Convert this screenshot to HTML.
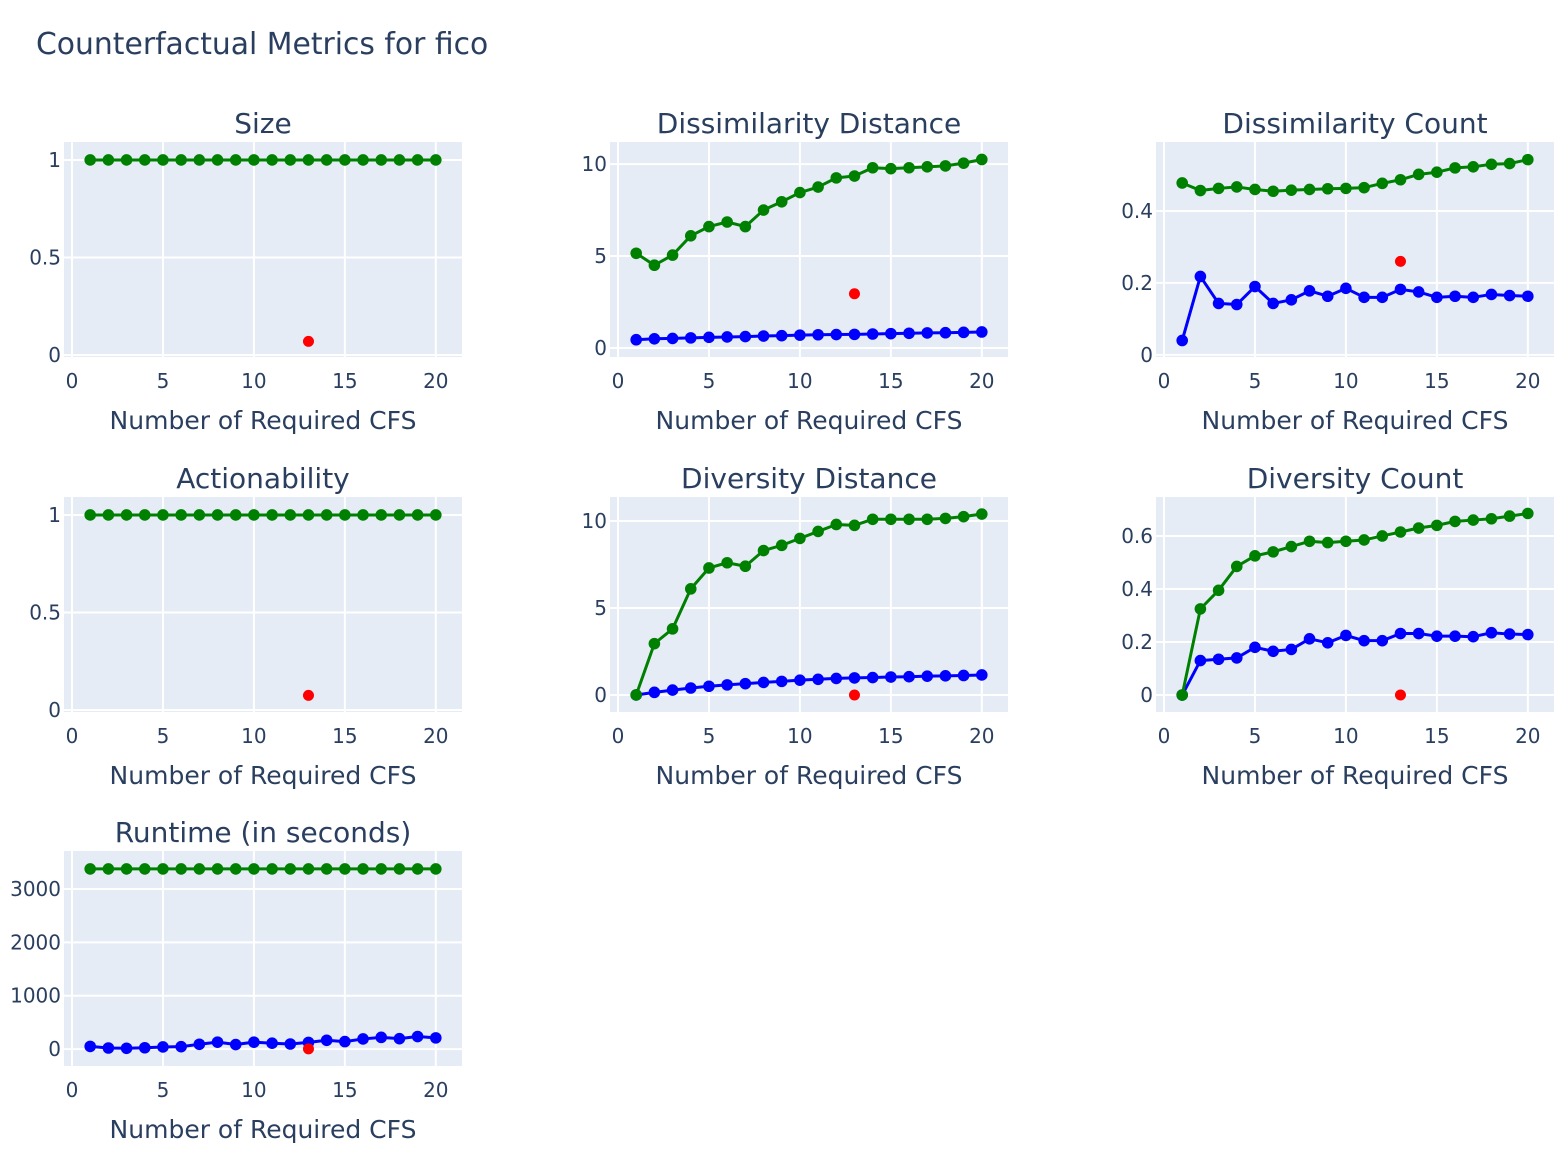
<!DOCTYPE html>
<html><head><meta charset="utf-8">
<style>
body{margin:0;background:#fff;}
svg text{font-family:"DejaVu Sans","Liberation Sans",sans-serif;fill:#2a3f5f;}
</style></head>
<body>
<svg id="chart" width="1561" height="1148" xmlns="http://www.w3.org/2000/svg">
<rect width="1561" height="1148" fill="#fff"/>
<text x="36" y="54" font-size="29.8">Counterfactual Metrics for fico</text>
</svg>
<script>
const xs = [1,2,3,4,5,6,7,8,9,10,11,12,13,14,15,16,17,18,19,20];
const xTicks = [0,5,10,15,20];
const titles = ["Size","Dissimilarity Distance","Dissimilarity Count","Actionability","Diversity Distance","Diversity Count","Runtime (in seconds)"];
const greenSize = [1,1,1,1,1,1,1,1,1,1,1,1,1,1,1,1,1,1,1,1];
const greenDissDist = [5.15,4.5,5.05,6.1,6.6,6.85,6.6,7.5,7.95,8.45,8.75,9.25,9.35,9.8,9.75,9.8,9.85,9.9,10.05,10.25];
const blueDissDist = [0.45,0.5,0.52,0.55,0.58,0.6,0.62,0.65,0.67,0.7,0.72,0.73,0.74,0.76,0.78,0.8,0.82,0.83,0.85,0.87];
const greenDissCount = [0.478,0.457,0.463,0.467,0.460,0.455,0.458,0.460,0.462,0.463,0.465,0.477,0.487,0.502,0.508,0.520,0.523,0.530,0.532,0.543];
const blueDissCount = [0.04,0.218,0.143,0.140,0.190,0.143,0.153,0.178,0.163,0.185,0.160,0.160,0.182,0.175,0.160,0.163,0.160,0.168,0.165,0.163];
const greenAction = [1,1,1,1,1,1,1,1,1,1,1,1,1,1,1,1,1,1,1,1];
const greenDivDist = [0,2.95,3.8,6.1,7.3,7.6,7.4,8.3,8.6,9.0,9.4,9.8,9.75,10.1,10.1,10.1,10.1,10.15,10.25,10.4];
const blueDivDist = [0,0.15,0.28,0.4,0.5,0.58,0.65,0.72,0.78,0.85,0.9,0.95,0.98,1.0,1.03,1.05,1.08,1.1,1.12,1.15];
const greenDivCount = [0,0.325,0.395,0.485,0.525,0.540,0.560,0.580,0.575,0.580,0.585,0.600,0.615,0.630,0.640,0.655,0.660,0.665,0.675,0.685];
const blueDivCount = [0,0.13,0.135,0.14,0.18,0.165,0.172,0.212,0.197,0.225,0.205,0.205,0.232,0.232,0.222,0.222,0.22,0.235,0.23,0.228];
const greenRuntime = [3375,3375,3375,3375,3375,3375,3375,3375,3375,3375,3375,3375,3375,3375,3375,3375,3375,3375,3375,3375];
const blueRuntime = [50,20,15,25,40,45,90,130,85,130,110,95,125,165,140,190,220,195,235,210];
const redX = 13;
const redValues = [0.07,2.95,0.26,0.075,0,0,5];
const yTicks = [[0,0.5,1],[0,5,10],[0,0.2,0.4],[0,0.5,1],[0,5,10],[0,0.2,0.4,0.6],[0,1000,2000,3000]];
const yTickLabels = [["0","0.5","1"],["0","5","10"],["0","0.2","0.4"],["0","0.5","1"],["0","5","10"],["0","0.2","0.4","0.6"],["0","1000","2000","3000"]];
const yRanges = [[-0.01,1.092],[-0.49,11.2],[-0.006,0.592],[-0.01,1.092],[-0.98,11.38],[-0.064,0.747],[-317,3711]];
const greens = [greenSize,greenDissDist,greenDissCount,greenAction,greenDivDist,greenDivCount,greenRuntime];
const blues = [null,blueDissDist,blueDissCount,null,blueDivDist,blueDivCount,blueRuntime];

const NS="http://www.w3.org/2000/svg";
const svg=document.getElementById('chart');
function mk(tag,attrs,parent){const e=document.createElementNS(NS,tag);for(const k in attrs)e.setAttribute(k,attrs[k]);(parent||svg).appendChild(e);return e;}
const colLeft=[64,610,1156], W=398, rowTop=[142,497,851], H=215;
const xLo=-0.44, xHi=21.44;
titles.forEach((t,i)=>{
  const c=i%3, r=Math.floor(i/3);
  const L=colLeft[c], T=rowTop[r];
  const g=mk('g',{});
  
  
  const [lo,hi]=yRanges[i];
  const X=v=>L+(v-xLo)/(xHi-xLo)*W;
  const Y=v=>T+H-(v-lo)/(hi-lo)*H;
  const bg=mk('rect',{x:L,y:T,width:W,height:H,fill:'#e5ecf6'},g);
  
  
  xTicks.forEach(v=>{
    mk('line',{x1:X(v),x2:X(v),y1:T,y2:T+H,stroke:'#fff','stroke-width':2},g);
    const tl=mk('text',{x:X(v),y:T+H+31,'font-size':20,'text-anchor':'middle'},g);tl.textContent=v;
    
    
  });
  yTicks[i].forEach((v,k)=>{
    mk('line',{x1:L,x2:L+W,y1:Y(v),y2:Y(v),stroke:'#fff','stroke-width':2},g);
    const tl=mk('text',{x:L-3,y:Y(v)+7,'font-size':20,'text-anchor':'end'},g);tl.textContent=yTickLabels[i][k];
    
    
  });
  const st=mk('text',{x:L+W/2,y:T-9,'font-size':28,'text-anchor':'middle'},g);st.textContent=t;
  
  
  const at=mk('text',{x:L+W/2,y:T+H+72,'font-size':25,'text-anchor':'middle'},g);at.textContent='Number of Required CFS';
  
  
  [[blues[i],'#0000ff','blue-series'],[greens[i],'#008000','green-series']].forEach(([arr,col,nm])=>{
    if(!arr)return;
    const s=mk('g',{},g);
    
    
    mk('polyline',{points:arr.map((v,j)=>X(xs[j])+','+Y(v)).join(' '),fill:'none',stroke:col,'stroke-width':3,'stroke-linejoin':'round'},s);
    arr.forEach((v,j)=>{
      const p=mk('circle',{cx:X(xs[j]),cy:Y(v),r:5.8,fill:col},s);
      
      
    });
  });
  const rd=mk('circle',{cx:X(redX),cy:Y(redValues[i]),r:5.5,fill:'#ff0000'},g);
  
  
});
</script>
</body></html>
